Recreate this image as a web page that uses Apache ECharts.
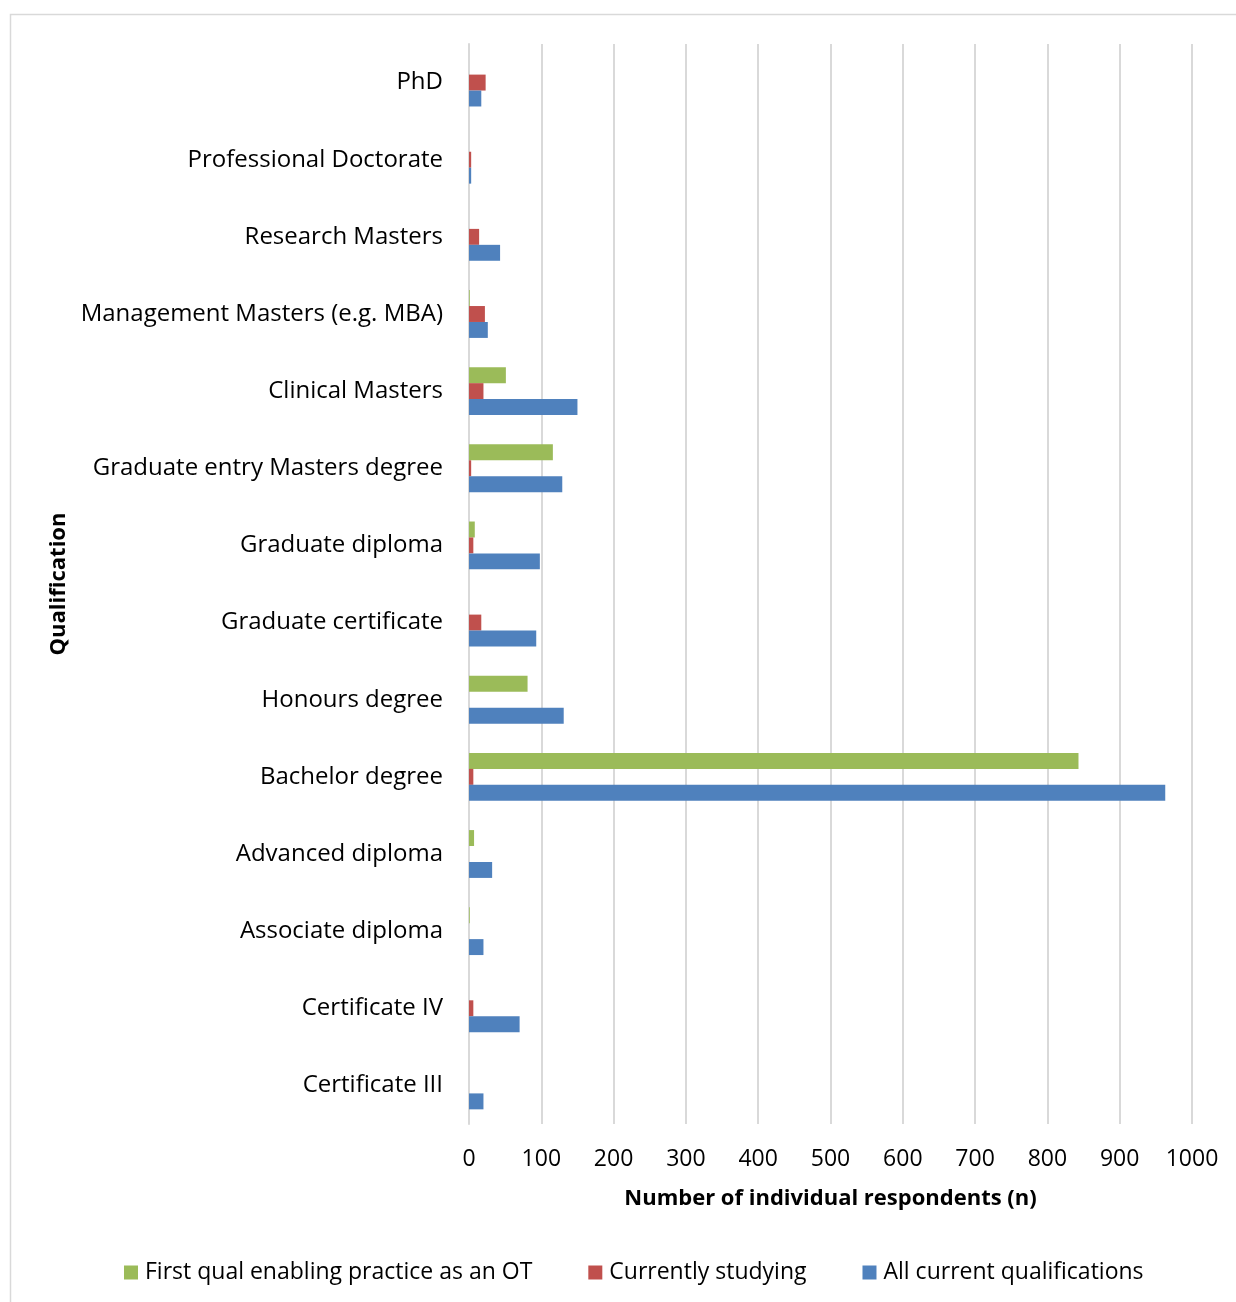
<!DOCTYPE html>
<html>
<head>
<meta charset="utf-8">
<script src="https://cdn.jsdelivr.net/npm/echarts@6/dist/echarts.min.js"></script>
<style>
  html, body { margin: 0; padding: 0; background: #fff; }
  #chart { width: 1236px; height: 1302px; }
</style>
</head>
<body>
<div id="chart"></div>
<script>
// Qualifications, listed bottom-to-top as drawn on the category axis
const qualifications = [
  'Certificate III', 'Certificate IV', 'Associate diploma', 'Advanced diploma',
  'Bachelor degree', 'Honours degree', 'Graduate certificate', 'Graduate diploma',
  'Graduate entry Masters degree', 'Clinical Masters', 'Management Masters (e.g. MBA)',
  'Research Masters', 'Professional Doctorate', 'PhD'
];
const firstQual   = [0, 0, 1, 7, 843, 81, 0, 8, 116, 51, 1, 0, 0, 0];
const studying    = [0, 6, 0, 0, 6, 0, 17, 6, 3, 20, 22, 14, 3, 23];
const allCurrent  = [20, 70, 20, 32, 963, 131, 93, 98, 129, 150, 26, 43, 3, 17];
const valueTicks  = [0, 100, 200, 300, 400, 500, 600, 700, 800, 900, 1000];

const seriesNames = ['First qual enabling practice as an OT', 'Currently studying', 'All current qualifications'];
const colors = ['#9bbb59', '#c0504d', '#4f81bd'];
const font = 'Open Sans';

const chart = echarts.init(document.getElementById('chart'));
chart.setOption({
  animation: false,
  textStyle: { fontFamily: font },
  graphic: [{
    type: 'rect',
    shape: { x: 10.5, y: 14.5, width: 1300, height: 1400 },
    style: { fill: 'none', stroke: '#d9d9d9', lineWidth: 1.5 },
    silent: true
  }],
  grid: { left: 469, right: 44, top: 44, bottom: 178 },
  legend: {
    bottom: 13,
    left: 119,
    itemWidth: 14,
    itemHeight: 14,
    itemGap: 56,
    icon: 'rect',
    textStyle: { fontSize: 23, color: '#000', fontFamily: font, padding: [0, 0, 0, 2] },
    data: seriesNames
  },
  xAxis: {
    type: 'value',
    min: valueTicks[0],
    max: valueTicks[valueTicks.length - 1],
    interval: 100,
    name: 'Number of individual respondents (n)',
    nameLocation: 'middle',
    nameGap: 64,
    nameTextStyle: { fontSize: 22, fontWeight: 'bold', color: '#000' },
    axisLine: { show: false },
    axisTick: { show: false },
    axisLabel: { fontSize: 23, color: '#000', margin: 24, formatter: v => String(v) },
    splitLine: { lineStyle: { color: '#d9d9d9', width: 2 } }
  },
  yAxis: {
    type: 'category',
    data: qualifications,
    name: 'Qualification',
    nameLocation: 'middle',
    nameGap: 397,
    nameRotate: 90,
    nameTextStyle: { fontSize: 22, fontWeight: 'bold', color: '#000' },
    axisLine: { lineStyle: { color: '#d9d9d9', width: 2 } },
    axisTick: { show: false },
    axisLabel: { fontSize: 24, color: '#000', margin: 26 }
  },
  series: seriesNames.map((name, i) => ({
    name: name,
    type: 'bar',
    data: [firstQual, studying, allCurrent][i],
    itemStyle: { color: colors[i] },
    barGap: '0%',
    barCategoryGap: '38%'
  }))
});
</script>
</body>
</html>
